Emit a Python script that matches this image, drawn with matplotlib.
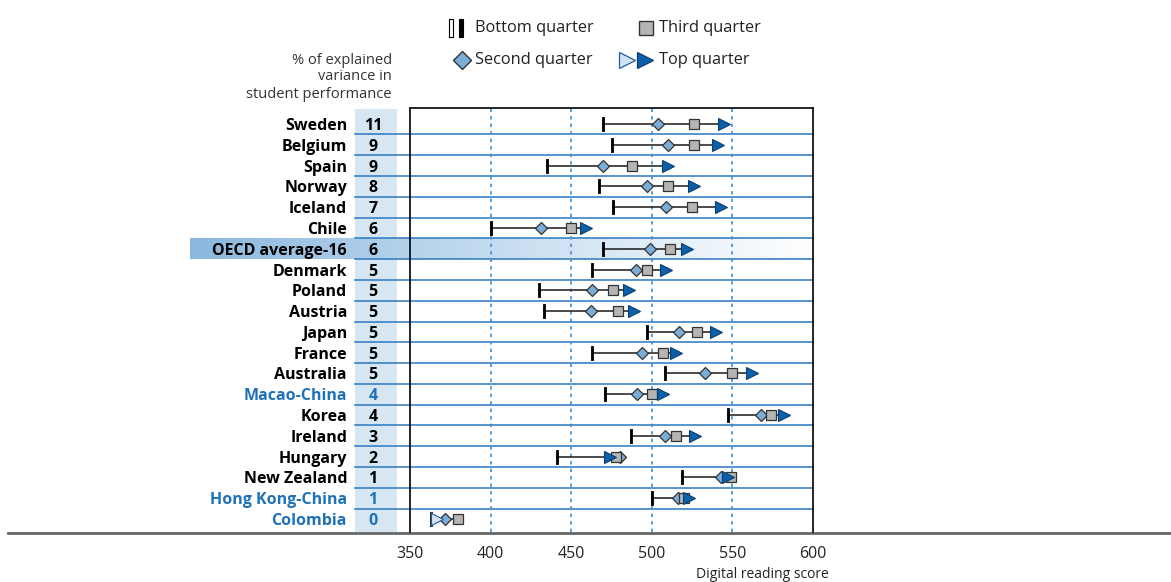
import matplotlib
matplotlib.use("Agg")
import matplotlib.pyplot as plt
import numpy as np
from matplotlib.colors import LinearSegmentedColormap
from matplotlib.patches import Rectangle
from matplotlib.transforms import blended_transform_factory

plt.rcParams['font.family'] = ['Open Sans', 'DejaVu Sans']

# data
countries = ["Sweden", "Belgium", "Spain", "Norway", "Iceland", "Chile", "OECD average-16",
             "Denmark", "Poland", "Austria", "Japan", "France", "Australia", "Macao-China",
             "Korea", "Ireland", "Hungary", "New Zealand", "Hong Kong-China", "Colombia"]
variance = [11, 9, 9, 8, 7, 6, 6, 5, 5, 5, 5, 5, 5, 4, 4, 3, 2, 1, 1, 0]
bottom_q = [470, 475, 435, 467, 476, 400, 470, 463, 430, 433, 497, 463, 508, 471, 547, 487, 441, 519, 500, 363]
second_q = [504, 510, 470, 497, 509, 431, 499, 490, 463, 462, 517, 494, 533, 491, 568, 508, 480, 543, 516, 372]
third_q = [526, 526, 488, 510, 525, 450, 511, 497, 476, 479, 528, 507, 550, 500, 574, 515, 478, 549, 520, 380]
top_q = [545, 541, 510, 526, 543, 459, 522, 509, 486, 489, 540, 515, 562, 507, 582, 527, 474, 547, 523, 367]
partners = ["Macao-China", "Hong Kong-China", "Colombia"]
light_rows = ["Colombia"]
xticks = [350, 400, 450, 500, 550, 600]

BLUE_TXT = '#1f72b8'
SEP = '#2a78bf'
DIA = '#7aadd8'
SQ = '#b5b5b5'
TRI = '#0b60a8'
TRI_LIGHT = '#cfe3f3'
EDGE = '#333333'

W, H = 1171, 582
fig = plt.figure(figsize=(W / 100, H / 100), dpi=100)

# background layer in pixel coordinates
bg = fig.add_axes([0, 0, 1, 1], zorder=0)
bg.set_xlim(0, W)
bg.set_ylim(H, 0)
bg.axis('off')

ax = fig.add_axes([410 / W, 1 - 532 / H, 403 / W, 424 / H], zorder=2)
ax.patch.set_facecolor('none')
n = len(countries)
ax.set_xlim(350, 600)
ax.set_ylim(n - 0.375, -0.77)

# number column background
bg.add_patch(Rectangle((355, 109), 42, 532 - 109, color='#d6e6f3', lw=0))

# gradient band for the OECD average row
oecd = countries.index("OECD average-16")
p0 = ax.transData.transform((350, oecd + 0.5))
p1 = ax.transData.transform((600, oecd - 0.5))
f0 = fig.transFigure.inverted().transform(p0)
f1 = fig.transFigure.inverted().transform(p1)
gax = fig.add_axes([190 / W, f0[1], f1[0] - 190 / W, f1[1] - f0[1]], zorder=1)
gax.axis('off')
cmap = LinearSegmentedColormap.from_list('band', ['#8ab8dd', '#c6ddf0', '#ffffff'])
gax.imshow(np.linspace(0, 1, 256)[None, :], aspect='auto', cmap=cmap, extent=[0, 1, 0, 1])

# row separators
sep_tr = blended_transform_factory(fig.transFigure, ax.transData)
for i in range(n - 1):
    ax.plot([355 / W, 813 / W], [i + 0.5, i + 0.5], color=SEP, lw=1.1,
            transform=sep_tr, clip_on=False, zorder=1)

for x in xticks[1:-1]:
    ax.axvline(x, color='#3d8fd6', lw=1.2, ls=(0, (2, 2.5)), zorder=1)

bar = [(-0.1, -0.5), (0.1, -0.5), (0.1, 0.5), (-0.1, 0.5), (-0.1, -0.5)]

for i, c in enumerate(countries):
    vals = [bottom_q[i], second_q[i], third_q[i], top_q[i]]
    ax.plot([min(vals), max(vals)], [i, i], color='#1a1a1a', lw=1.1, zorder=3)
    light = c in light_rows
    ax.plot(bottom_q[i], i, marker=bar, ms=10, mfc='white' if light else 'black',
            mec='black', mew=0.6, ls='none', zorder=4)
    ax.plot(second_q[i], i, marker='D', ms=6.6, mfc=DIA, mec=EDGE, mew=0.9, ls='none', zorder=5)
    ax.plot(third_q[i], i, marker='s', ms=7.0, mfc=SQ, mec=EDGE, mew=0.9, ls='none', zorder=6)
    ax.plot(top_q[i], i, marker='>', ms=8.0, mfc=TRI_LIGHT if light else TRI,
            mec='#1f5f9a' if light else '#0a3d73', mew=0.8, ls='none', zorder=7)

# labels and variance numbers
for i, c in enumerate(countries):
    col = BLUE_TXT if c in partners else 'black'
    ax.text(347 / W, i, c, transform=sep_tr, ha='right', va='center_baseline',
            fontsize=11.5, fontweight='bold', color=col, clip_on=False)
    ax.text(373 / W, i, str(variance[i]), transform=sep_tr, ha='center',
            va='center_baseline', fontsize=11.5, fontweight='bold', color=col, clip_on=False)

for s in ['left', 'right', 'top']:
    ax.spines[s].set_color('black')
    ax.spines[s].set_linewidth(1.2)
ax.spines['bottom'].set_visible(False)
ax.set_yticks([])
ax.set_xticks(xticks)
ax.tick_params(axis='x', length=0, pad=10, labelsize=11.5, labelcolor='#222222')
bg.plot([8, W], [533, 533], color='#666666', lw=2)

fig.text(829 / W, 1 - 575 / H, 'Digital reading score', ha='right', va='center',
         fontsize=10, color='#222222')

for k, line in enumerate(['% of explained', 'variance in', 'student performance']):
    fig.text(392 / W, 1 - (60 + 17 * k) / H, line, ha='right', va='center',
             fontsize=10.5, color='#333333')

# legend
bg.plot(451, 28, marker=bar, ms=13, mfc='white', mec='black', mew=0.8)
bg.plot(461, 28, marker=bar, ms=13, mfc='black', mec='black', mew=0.8)
bg.text(475, 28, 'Bottom quarter', va='center', fontsize=11.8, color='#222222')
bg.plot(646, 28, marker='s', ms=10.5, mfc=SQ, mec=EDGE, mew=1)
bg.text(659, 28, 'Third quarter', va='center', fontsize=11.8, color='#222222')
bg.plot(462, 60, marker='D', ms=9.5, mfc=DIA, mec=EDGE, mew=1)
bg.text(475, 60, 'Second quarter', va='center', fontsize=11.8, color='#222222')
bg.plot(627, 60, marker='>', ms=11.5, mfc=TRI_LIGHT, mec='#1f5f9a', mew=0.9)
bg.plot(645, 60, marker='>', ms=11.5, mfc=TRI, mec='#0a3d73', mew=0.9)
bg.text(659, 60, 'Top quarter', va='center', fontsize=11.8, color='#222222')

fig.savefig('out.png', dpi=100)
